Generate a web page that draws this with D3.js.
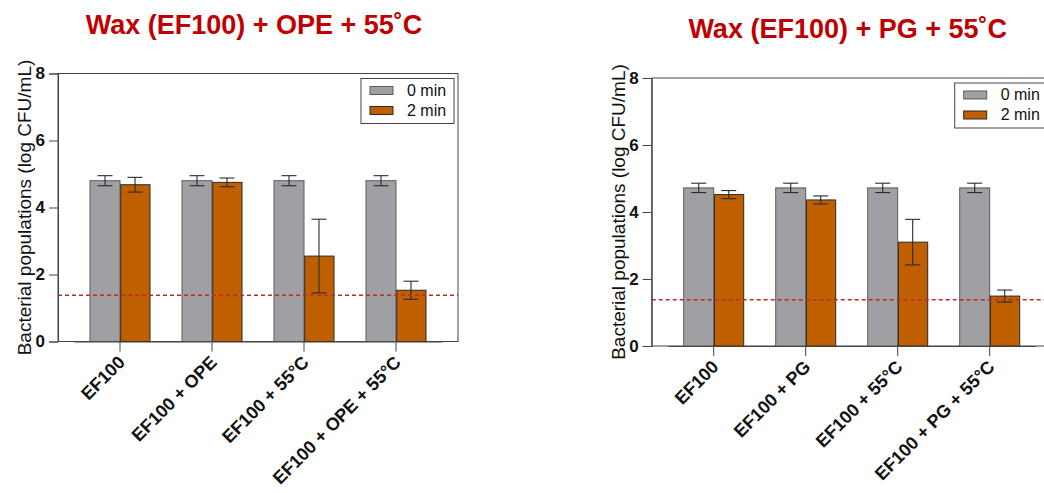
<!DOCTYPE html>
<html>
<head>
<meta charset="utf-8">
<script src="https://cdn.jsdelivr.net/npm/d3@7/dist/d3.min.js"></script>
<style>
  html, body { margin: 0; padding: 0; background: #fff; }
  svg { display: block; font-family: "Liberation Sans", Arial, sans-serif; }
</style>
</head>
<body>
<svg id="chart" width="1044" height="493"></svg>
<script>
// Bacterial counts (log CFU/mL) on wax-coated samples, 0 min vs 2 min treatment
const seriesNames = ["0 min", "2 min"];
const yTicks = [0, 2, 4, 6, 8];
const detectionLimit = 1.38;

const opeTitle = "Wax (EF100) + OPE + 55˚C";
const opeCategories = ["EF100", "EF100 + OPE", "EF100 + 55°C", "EF100 + OPE + 55°C"];
const ope0min = [4.80, 4.80, 4.80, 4.80];
const ope0minSd = [0.15, 0.15, 0.15, 0.15];
const ope2min = [4.68, 4.75, 2.55, 1.53];
const ope2minSd = [0.22, 0.13, 1.10, 0.27];

const pgTitle = "Wax (EF100) + PG + 55˚C";
const pgCategories = ["EF100", "EF100 + PG", "EF100 + 55°C", "EF100 + PG + 55°C"];
const pg0min = [4.72, 4.72, 4.72, 4.72];
const pg0minSd = [0.14, 0.14, 0.14, 0.14];
const pg2min = [4.52, 4.36, 3.10, 1.49];
const pg2minSd = [0.12, 0.12, 0.68, 0.18];

const colors = ["#a09fa4", "#c05f00"];
const strokes = ["#5a5a5a", "#2a2a2a"];
const fontFamily = "Liberation Sans, Arial, sans-serif";

const svg = d3.select("#chart");

function drawPanel(left, top, title, categories, means, sds) {
  const W = 400, H = 268;
  const g = svg.append("g").attr("transform", `translate(${left},${top})`);

  const x = d3.scaleBand().domain(categories).range([16, W - 16]);
  const xs = d3.scaleBand().domain(seriesNames).range([x.bandwidth() / 2 - 30, x.bandwidth() / 2 + 30]);
  const y = d3.scaleLinear().domain([0, 8]).range([H, 0]);

  // title
  g.append("text")
    .attr("x", 196).attr("y", -40)
    .attr("text-anchor", "middle")
    .attr("font-size", 27).attr("font-weight", "bold")
    .attr("fill", "#c00000")
    .text(title);

  // plot frame
  g.append("rect")
    .attr("x", 0).attr("y", 0).attr("width", W).attr("height", H)
    .attr("fill", "none").attr("stroke", "#444").attr("stroke-width", 1);

  // bars
  const rows = categories.map((c, i) => ({ c, i }));
  seriesNames.forEach((s, si) => {
    g.append("g").selectAll("rect")
      .data(rows).join("rect")
      .attr("x", d => x(d.c) + xs(s) + (si === 1 ? 0.7 : 0))
      .attr("y", d => y(means[si][d.i]))
      .attr("width", xs.bandwidth() - (si === 1 ? 0.7 : 0))
      .attr("height", d => y(0) - y(means[si][d.i]))
      .attr("fill", colors[si])
      .attr("stroke", strokes[si]).attr("stroke-width", 1);
  });

  // error bars (mean ± SD)
  seriesNames.forEach((s, si) => {
    const eg = g.append("g").attr("stroke", "#2b2b2b").attr("stroke-width", 1.1);
    rows.forEach(d => {
      const cx = x(d.c) + xs(s) + xs.bandwidth() / 2;
      const m = means[si][d.i], e = sds[si][d.i];
      eg.append("line").attr("x1", cx).attr("x2", cx).attr("y1", y(m + e)).attr("y2", y(m - e));
      eg.append("line").attr("x1", cx - 7.5).attr("x2", cx + 7.5).attr("y1", y(m + e)).attr("y2", y(m + e));
      eg.append("line").attr("x1", cx - 7.5).attr("x2", cx + 7.5).attr("y1", y(m - e)).attr("y2", y(m - e));
    });
  });

  // detection limit
  g.append("line")
    .attr("x1", 0).attr("x2", W)
    .attr("y1", y(detectionLimit)).attr("y2", y(detectionLimit))
    .attr("stroke", "#c0282a").attr("stroke-width", 1.4)
    .attr("stroke-dasharray", "4,3");

  // y axis
  const yAxis = g.append("g")
    .call(d3.axisLeft(y).tickValues(yTicks).tickSize(9).tickPadding(4).tickFormat(d3.format("d")));
  yAxis.select(".domain").attr("stroke", "#444");
  yAxis.selectAll(".tick line").attr("stroke", "#444");
  yAxis.selectAll(".tick text")
    .attr("font-size", 17).attr("font-weight", "bold").attr("fill", "#111")
    .attr("font-family", fontFamily);

  // x axis
  const xAxis = g.append("g").attr("transform", `translate(0,${H})`)
    .call(d3.axisBottom(x).tickSize(10).tickSizeOuter(0).tickFormat(""));
  xAxis.select(".domain").attr("stroke", "#444");
  xAxis.selectAll(".tick line").attr("stroke", "#444");
  xAxis.selectAll(".tick").append("text")
    .attr("transform", "translate(6,22) rotate(-45)")
    .attr("text-anchor", "end")
    .attr("font-size", 18).attr("font-weight", "bold").attr("fill", "#111")
    .attr("font-family", fontFamily)
    .text(d => d);

  // y label
  g.append("text")
    .attr("transform", `translate(-27,${H / 2}) rotate(-90)`)
    .attr("text-anchor", "middle")
    .attr("font-size", 19).attr("fill", "#111")
    .text("Bacterial populations (log CFU/mL)");

  // legend
  const lg = g.append("g").attr("transform", `translate(${W - 97},5)`);
  lg.append("rect").attr("width", 93).attr("height", 45)
    .attr("fill", "#fff").attr("stroke", "#444").attr("stroke-width", 1);
  seriesNames.forEach((s, si) => {
    const row = lg.append("g").attr("transform", `translate(9,${8 + si * 20})`);
    row.append("rect").attr("width", 23).attr("height", 8)
      .attr("fill", colors[si]).attr("stroke", strokes[si]);
    row.append("text").attr("x", 37).attr("y", 9)
      .attr("font-size", 16).attr("fill", "#111").text(s);
  });
}

drawPanel(58, 73.5, opeTitle, opeCategories, [ope0min, ope2min], [ope0minSd, ope2minSd]);
drawPanel(651.7, 78, pgTitle, pgCategories, [pg0min, pg2min], [pg0minSd, pg2minSd]);
</script>
</body>
</html>
